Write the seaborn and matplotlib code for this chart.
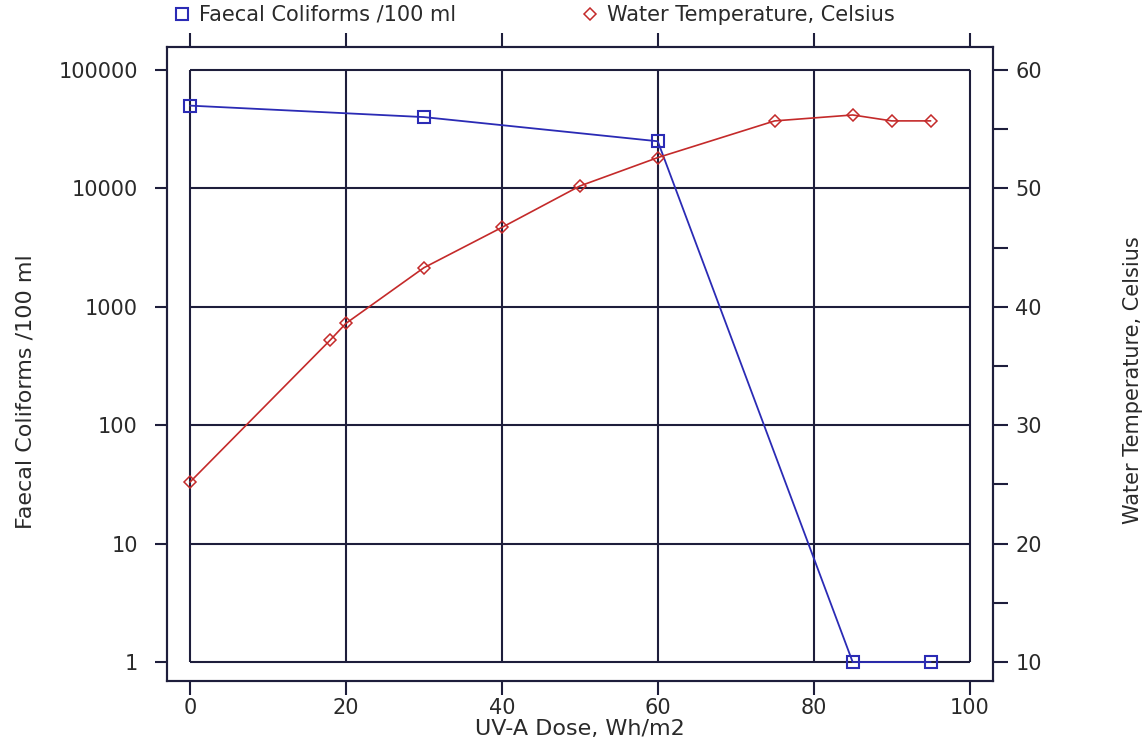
import matplotlib
matplotlib.use("Agg")
import matplotlib.pyplot as plt
import seaborn as sns
import pandas as pd
from matplotlib.lines import Line2D
from matplotlib.ticker import FixedLocator, FuncFormatter, NullLocator

# ---- data ----
dose_fc = [0, 30, 60, 85, 95]
coliforms = [50000, 40000, 25000, 1, 1]
dose_temp = [0, 18, 20, 30, 40, 50, 60, 75, 85, 90, 95]
temperature = [25.2, 37.2, 38.6, 43.3, 46.7, 50.2, 52.6, 55.7, 56.2, 55.7, 55.7]
x_ticks = [0, 20, 40, 60, 80, 100]
fc_ticks = [1, 10, 100, 1000, 10000, 100000]
temp_ticks = [10, 20, 30, 40, 50, 60]
temp_minor = [15, 25, 35, 45, 55]

BLUE = "#2b2bb5"
RED = "#c42a2a"
FRAME = "#1e1e3c"
TXT = "#2a2a2a"
LW = 1.5

sns.set_theme(style="white")
plt.rcParams["font.family"] = ["DejaVu Sans"]

fig = plt.figure(figsize=(11.46, 7.44), dpi=100)
ax = fig.add_axes([167/1146, 1-681/744, (993-167)/1146, (681-47)/744])
ax2 = ax.twinx()

# grid confined to the inner rectangle
ax.vlines(x_ticks, fc_ticks[0], fc_ticks[-1], colors=FRAME, lw=LW, zorder=1)
ax.hlines(fc_ticks, x_ticks[0], x_ticks[-1], colors=FRAME, lw=LW, zorder=1)

df_fc = pd.DataFrame({"dose": dose_fc, "fc": coliforms})
df_t = pd.DataFrame({"dose": dose_temp, "temp": temperature})

sns.lineplot(data=df_fc, x="dose", y="fc", ax=ax, color=BLUE, lw=1.3,
             marker="s", markersize=9, markerfacecolor="none",
             markeredgecolor=BLUE, markeredgewidth=1.5, zorder=5)
sns.lineplot(data=df_t, x="dose", y="temp", ax=ax2, color=RED, lw=1.2,
             marker="D", markersize=6, markerfacecolor="none",
             markeredgecolor=RED, markeredgewidth=1.1, zorder=5)

ax.set_yscale("log")
ax.set_xlim(-2.95, 103.0)
ax.set_ylim(10**-0.16, 10**5.194)
ax2.set_ylim(8.4, 61.94)

ax.xaxis.set_major_locator(FixedLocator(x_ticks))
ax.yaxis.set_major_locator(FixedLocator(fc_ticks))
ax.yaxis.set_minor_locator(NullLocator())
ax.yaxis.set_major_formatter(FuncFormatter(lambda v, p: f"{int(round(v))}"))
ax2.yaxis.set_major_locator(FixedLocator(temp_ticks))
ax2.yaxis.set_minor_locator(FixedLocator(temp_minor))

ax.grid(False)
ax2.grid(False)

for a in (ax, ax2):
    for s in a.spines.values():
        s.set_color(FRAME)
        s.set_linewidth(LW)
        s.set_visible(True)

ax.tick_params(axis="x", which="major", direction="out", length=10, width=LW,
               color=FRAME, top=True, bottom=True, labeltop=False,
               labelsize=15, labelcolor=TXT, pad=2)
ax.tick_params(axis="y", which="major", direction="out", length=9, width=LW,
               color=FRAME, left=True, right=False, labelsize=15,
               labelcolor=TXT, pad=12)
ax2.tick_params(axis="y", which="both", direction="out", length=11, width=LW,
                color=FRAME, right=True, labelsize=15, labelcolor=TXT, pad=5)

ax.set_xlabel("UV-A Dose, Wh/m2", fontsize=16, color=TXT, labelpad=1)
ax.set_ylabel("Faecal Coliforms /100 ml", fontsize=16, color=TXT,
              rotation=90, rotation_mode="anchor", ha="center", va="center")
ax.yaxis.set_label_coords(-0.1719, 0.456)
ax2.set_ylabel("Water Temperature, Celsius", fontsize=15, color=TXT,
               rotation=90, rotation_mode="anchor", ha="center", va="center")
ax2.yaxis.set_label_coords(1.169, 0.475)

h1 = Line2D([], [], ls="none", marker="s", markersize=9, markerfacecolor="none",
            markeredgecolor=BLUE, markeredgewidth=1.5)
h2 = Line2D([], [], ls="none", marker="D", markersize=6, markerfacecolor="none",
            markeredgecolor=RED, markeredgewidth=1.1)
fig.legend([h1], ["Faecal Coliforms /100 ml"], loc="upper left",
           bbox_to_anchor=(174/1146, 1-5/744), frameon=False, fontsize=15,
           handlelength=0.8, handletextpad=0.4, borderpad=0, borderaxespad=0,
           labelcolor=TXT)
fig.legend([h2], ["Water Temperature, Celsius"], loc="upper left",
           bbox_to_anchor=(582/1146, 1-5/744), frameon=False, fontsize=15,
           handlelength=0.8, handletextpad=0.4, borderpad=0, borderaxespad=0,
           labelcolor=TXT)

fig.savefig("out.png", dpi=100, facecolor="white")
